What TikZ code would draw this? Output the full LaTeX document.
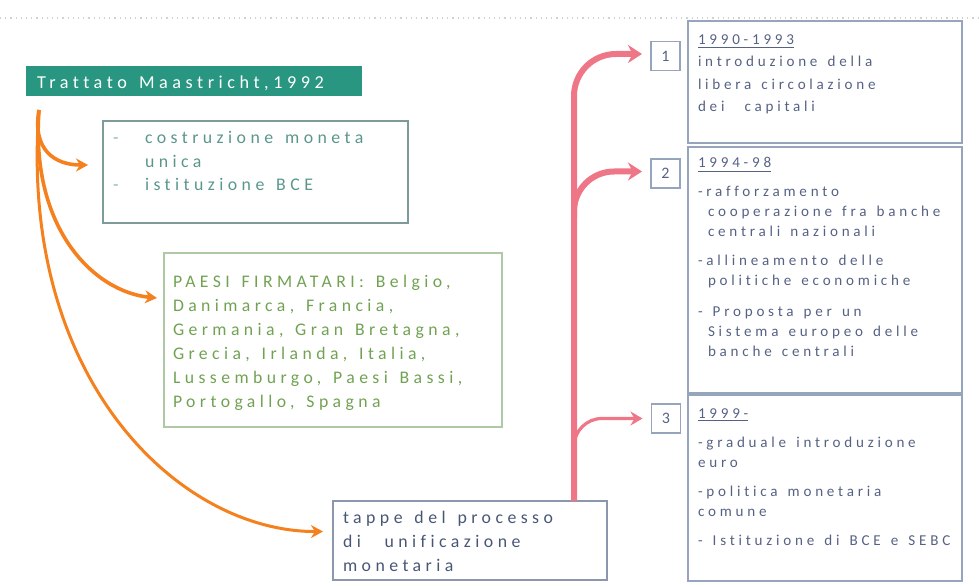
\documentclass[tikz,border=0pt]{standalone}
\usepackage{fontspec}
\setmainfont{Carlito}
\newfontfamily\spfont[LetterSpace=25,WordSpace=1.4,Ligatures=NoCommon]{Carlito}
\usetikzlibrary{positioning,arrows.meta,calc}

\definecolor{headfill}{RGB}{40,150,128}
\definecolor{aline}{RGB}{125,155,155}
\definecolor{atext}{RGB}{90,150,140}
\definecolor{bline}{RGB}{175,200,165}
\definecolor{btext}{RGB}{112,162,82}
\definecolor{cline}{RGB}{140,150,172}
\definecolor{ctext}{RGB}{72,86,118}
\definecolor{rline}{RGB}{150,165,188}
\definecolor{rtext}{RGB}{86,98,132}
\definecolor{orangearr}{RGB}{245,128,30}
\definecolor{pinkarr}{RGB}{238,118,134}

\begin{document}
\begin{tikzpicture}[
  x=0.5pt, y=-0.5pt,
  every node/.style={inner sep=0pt, outer sep=0pt},
  headbox/.style={fill=headfill, minimum width=168pt, minimum height=15pt},
  abox/.style={draw=aline, line width=0.8pt, minimum width=152.5pt, minimum height=51pt},
  bbox/.style={draw=bline, line width=0.8pt, minimum width=169pt, minimum height=87pt},
  cbox/.style={draw=cline, line width=0.8pt, minimum width=137pt, minimum height=39.5pt},
  rbox/.style={draw=rline, line width=1pt, minimum width=137pt},
  numbox/.style={draw=rline, line width=0.7pt, minimum width=14.5pt, minimum height=14.5pt, text=rtext,
    font=\spfont\fontsize{8}{8}\selectfont},
  % base anchor of a multi-line node = baseline of its last line
  lefttxt/.style={anchor=base west, align=left, font=\spfont\fontsize{8.9}{11.75}\selectfont},
  righttxt/.style={anchor=base west, align=left, text=rtext, font=\spfont\fontsize{7.55}{10}\selectfont},
  oarr/.style={draw=orangearr, line width=1.8pt, -{Stealth[length=6pt,width=6.5pt]}},
  parr/.style={draw=pinkarr, line width=3pt, -{Stealth[length=7pt,width=9pt]}, shorten >=4.5pt}
]
\useasboundingbox (0,0) rectangle (979,587);
\draw[gray!35, dotted, line width=0.6pt] (0,18) -- (979,18);

% left side
\node[headbox] (T) at (194,81) {};
\node[lefttxt, text=white, font=\spfont\fontsize{9.1}{10}\selectfont] (Ttxt) at (37,89) {Trattato Maastricht,1992};
\node[abox] (A) at (255.5,172) {};
\node[bbox] (B) at (333,340) {};
\node[cbox] (C) at (470,540.5) {};

\node[lefttxt, text=atext] (Atxt) at (113,191)
  {\makebox[16pt][l]{\color{atext!70}-}costruzione moneta\\\hspace*{16pt}unica\\\makebox[16pt][l]{\color{atext!70}-}istituzione BCE};
\node[lefttxt, text=btext, font=\spfont\fontsize{8.85}{12}\selectfont] (Btxt) at (173,408)
  {PAESI FIRMATARI: Belgio,\\Danimarca, Francia,\\Germania, Gran Bretagna,\\Grecia, Irlanda, Italia,\\Lussemburgo, Paesi Bassi,\\Portogallo, Spagna};
\node[lefttxt, text=ctext, font=\spfont\fontsize{8.9}{12}\selectfont] (Ctxt) at (343,571)
  {tappe del processo\\di\ \ unificazione\\monetaria};

% right side
\node[rbox, minimum height=61pt] (R1) at (825,82) {};
\node[rbox, minimum height=123pt] (R2) at (825,270) {};
\node[rbox, minimum height=93pt] (R3) at (825,488) {};

\node[numbox] (n1) at (665.5,56) {1};
\node[numbox] (n2) at (665.5,173.5) {2};
\node[numbox] (n3) at (666,418.5) {3};

\node[righttxt] (R1txt) at (698,112)
  {\underline{1990-1993}\\[1.25pt]introduzione della\\[1.25pt]libera circolazione\\[1.25pt]dei\ \ capitali};
\node[righttxt] (R2txt) at (698,357)
  {\underline{1994-98}\\[4.5pt]-rafforzamento\\\hspace*{5pt}cooperazione fra banche\\\hspace*{5pt}centrali nazionali\\[4.5pt]-allineamento delle\\\hspace*{5pt}politiche economiche\\[5.5pt]- Proposta per un\\\hspace*{5pt}Sistema europeo delle\\\hspace*{5pt}banche centrali};
\node[righttxt] (R3txt) at (698,545)
  {\underline{1999-}\\[4.5pt]-graduale introduzione\\euro\\[4.5pt]-politica monetaria\\comune\\[4.5pt]- Istituzione di BCE e SEBC};

% orange arrows
\coordinate (O) at ([xshift=6.5pt,yshift=-7pt]T.south west);
\draw[oarr] (O) .. controls (32,150) and (55,165) .. ([xshift=-7.5pt,yshift=3.5pt]A.west);
\draw[oarr] (O) .. controls (30,230) and (95,292) .. ([xshift=-3.5pt,yshift=21pt]B.west);
\draw[oarr, line width=1.5pt] (O) .. controls (18,380) and (180,532) .. ([xshift=-5pt,yshift=4.5pt]C.west);

% pink arrows
\coordinate (P) at ([xshift=-16.5pt]C.north east);
\coordinate (b2) at ($(P |- n2.west)+(0,44)$);
\coordinate (b3) at ($(P |- n3.west)+(0,32)$);
\draw[parr, rounded corners=21pt] (P) |- ([yshift=1pt]n1.west);
\draw[parr, rounded corners=20pt] (b2) |- ([yshift=1pt]n2.west);
\draw[parr, line width=1.6pt, -{Stealth[length=6pt,width=7pt]}, rounded corners=14pt] (b3) |- (n3.west);
\end{tikzpicture}
\end{document}
